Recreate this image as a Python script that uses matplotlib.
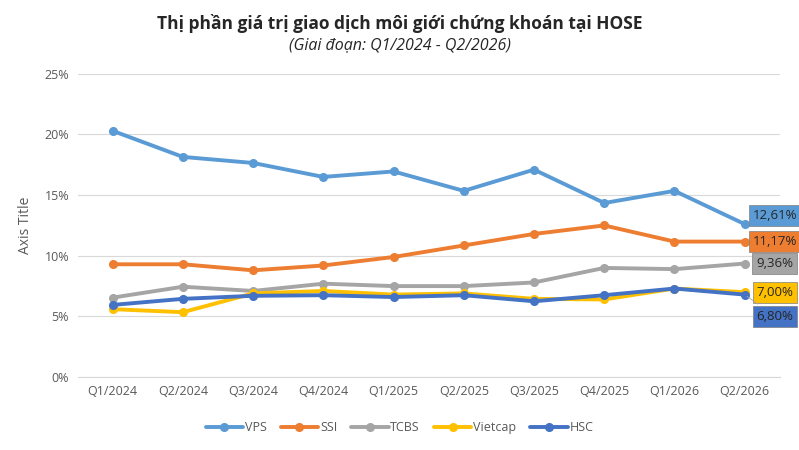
import numpy as np
import matplotlib.pyplot as plt

plt.rcParams['font.family'] = ['Open Sans', 'DejaVu Sans']

quarters = ['Q1/2024', 'Q2/2024', 'Q3/2024', 'Q4/2024', 'Q1/2025',
            'Q2/2025', 'Q3/2025', 'Q4/2025', 'Q1/2026', 'Q2/2026']
vps = [20.3, 18.15, 17.65, 16.5, 16.95, 15.35, 17.1, 14.35, 15.35, 12.61]
ssi = [9.3, 9.3, 8.8, 9.2, 9.9, 10.85, 11.8, 12.5, 11.17, 11.17]
tcbs = [6.55, 7.45, 7.1, 7.7, 7.5, 7.5, 7.8, 9.0, 8.9, 9.36]
vietcap = [5.6, 5.35, 6.9, 7.1, 6.8, 6.9, 6.45, 6.4, 7.3, 7.00]
hsc = [5.95, 6.45, 6.7, 6.75, 6.6, 6.75, 6.25, 6.75, 7.3, 6.80]

names = ['VPS', 'SSI', 'TCBS', 'Vietcap', 'HSC']
series = [vps, ssi, tcbs, vietcap, hsc]
colors = ['#5B9BD5', '#ED7D31', '#A5A5A5', '#FFC000', '#4472C4']
label_y = [13.3, 11.17, 9.36, 7.0, 5.0]

fig = plt.figure(figsize=(7.99, 4.5), dpi=100)
ax = fig.add_axes([0.097, 0.162, 0.879, 0.674])
x = np.arange(len(quarters))

for name, vals, c in zip(names, series, colors):
    ax.plot(x, vals, color=c, lw=2.8, marker='o', ms=5.5, label=name,
            solid_capstyle='round')

# data labels at last point
for vals, c, ly in zip(series, colors, label_y):
    txt = f'{vals[-1]:.2f}%'.replace('.', ',')
    ax.annotate(txt, xy=(x[-1], vals[-1]), xytext=(x[-1] + 0.43, ly),
                ha='center', va='center', fontsize=9.5, color='#262626',
                bbox=dict(boxstyle='square,pad=0.3', fc=c, ec='#7f7f7f', lw=0.5),
                arrowprops=dict(arrowstyle='-', color='#a6a6a6', lw=0.6) if ly < 6 else None,
                annotation_clip=False)

ax.set_xlim(-0.5, 9.5)
ax.set_ylim(0, 25)
ax.set_yticks(np.arange(0, 26, 5))
ax.set_yticklabels([f'{v}%' for v in range(0, 26, 5)])
ax.set_xticks(x)
ax.set_xticklabels(quarters)
ax.tick_params(length=0, labelsize=9, colors='#595959', pad=6)
ax.grid(axis='y', color='#d9d9d9', lw=0.8)
ax.set_axisbelow(True)
for s in ['top', 'right', 'left']:
    ax.spines[s].set_visible(False)
ax.spines['bottom'].set_color('#d9d9d9')
ax.set_ylabel('Axis Title', fontsize=10, color='#595959', labelpad=8)

fig.text(0.5, 0.947, 'Thị phần giá trị giao dịch môi giới chứng khoán tại HOSE',
         ha='center', va='center', fontsize=12.5, fontweight='bold', color='#262626')
fig.text(0.5, 0.9, '(Giai đoạn: Q1/2024 - Q2/2026)', ha='center', va='center',
         fontsize=11.5, style='italic', color='#262626')

fig.legend(loc='center', bbox_to_anchor=(0.5, 0.05), ncol=5, frameon=False,
           fontsize=9, handlelength=3.0, columnspacing=1.1, handletextpad=0.15,
           labelcolor='#595959')

fig.savefig('out.png', dpi=100)
